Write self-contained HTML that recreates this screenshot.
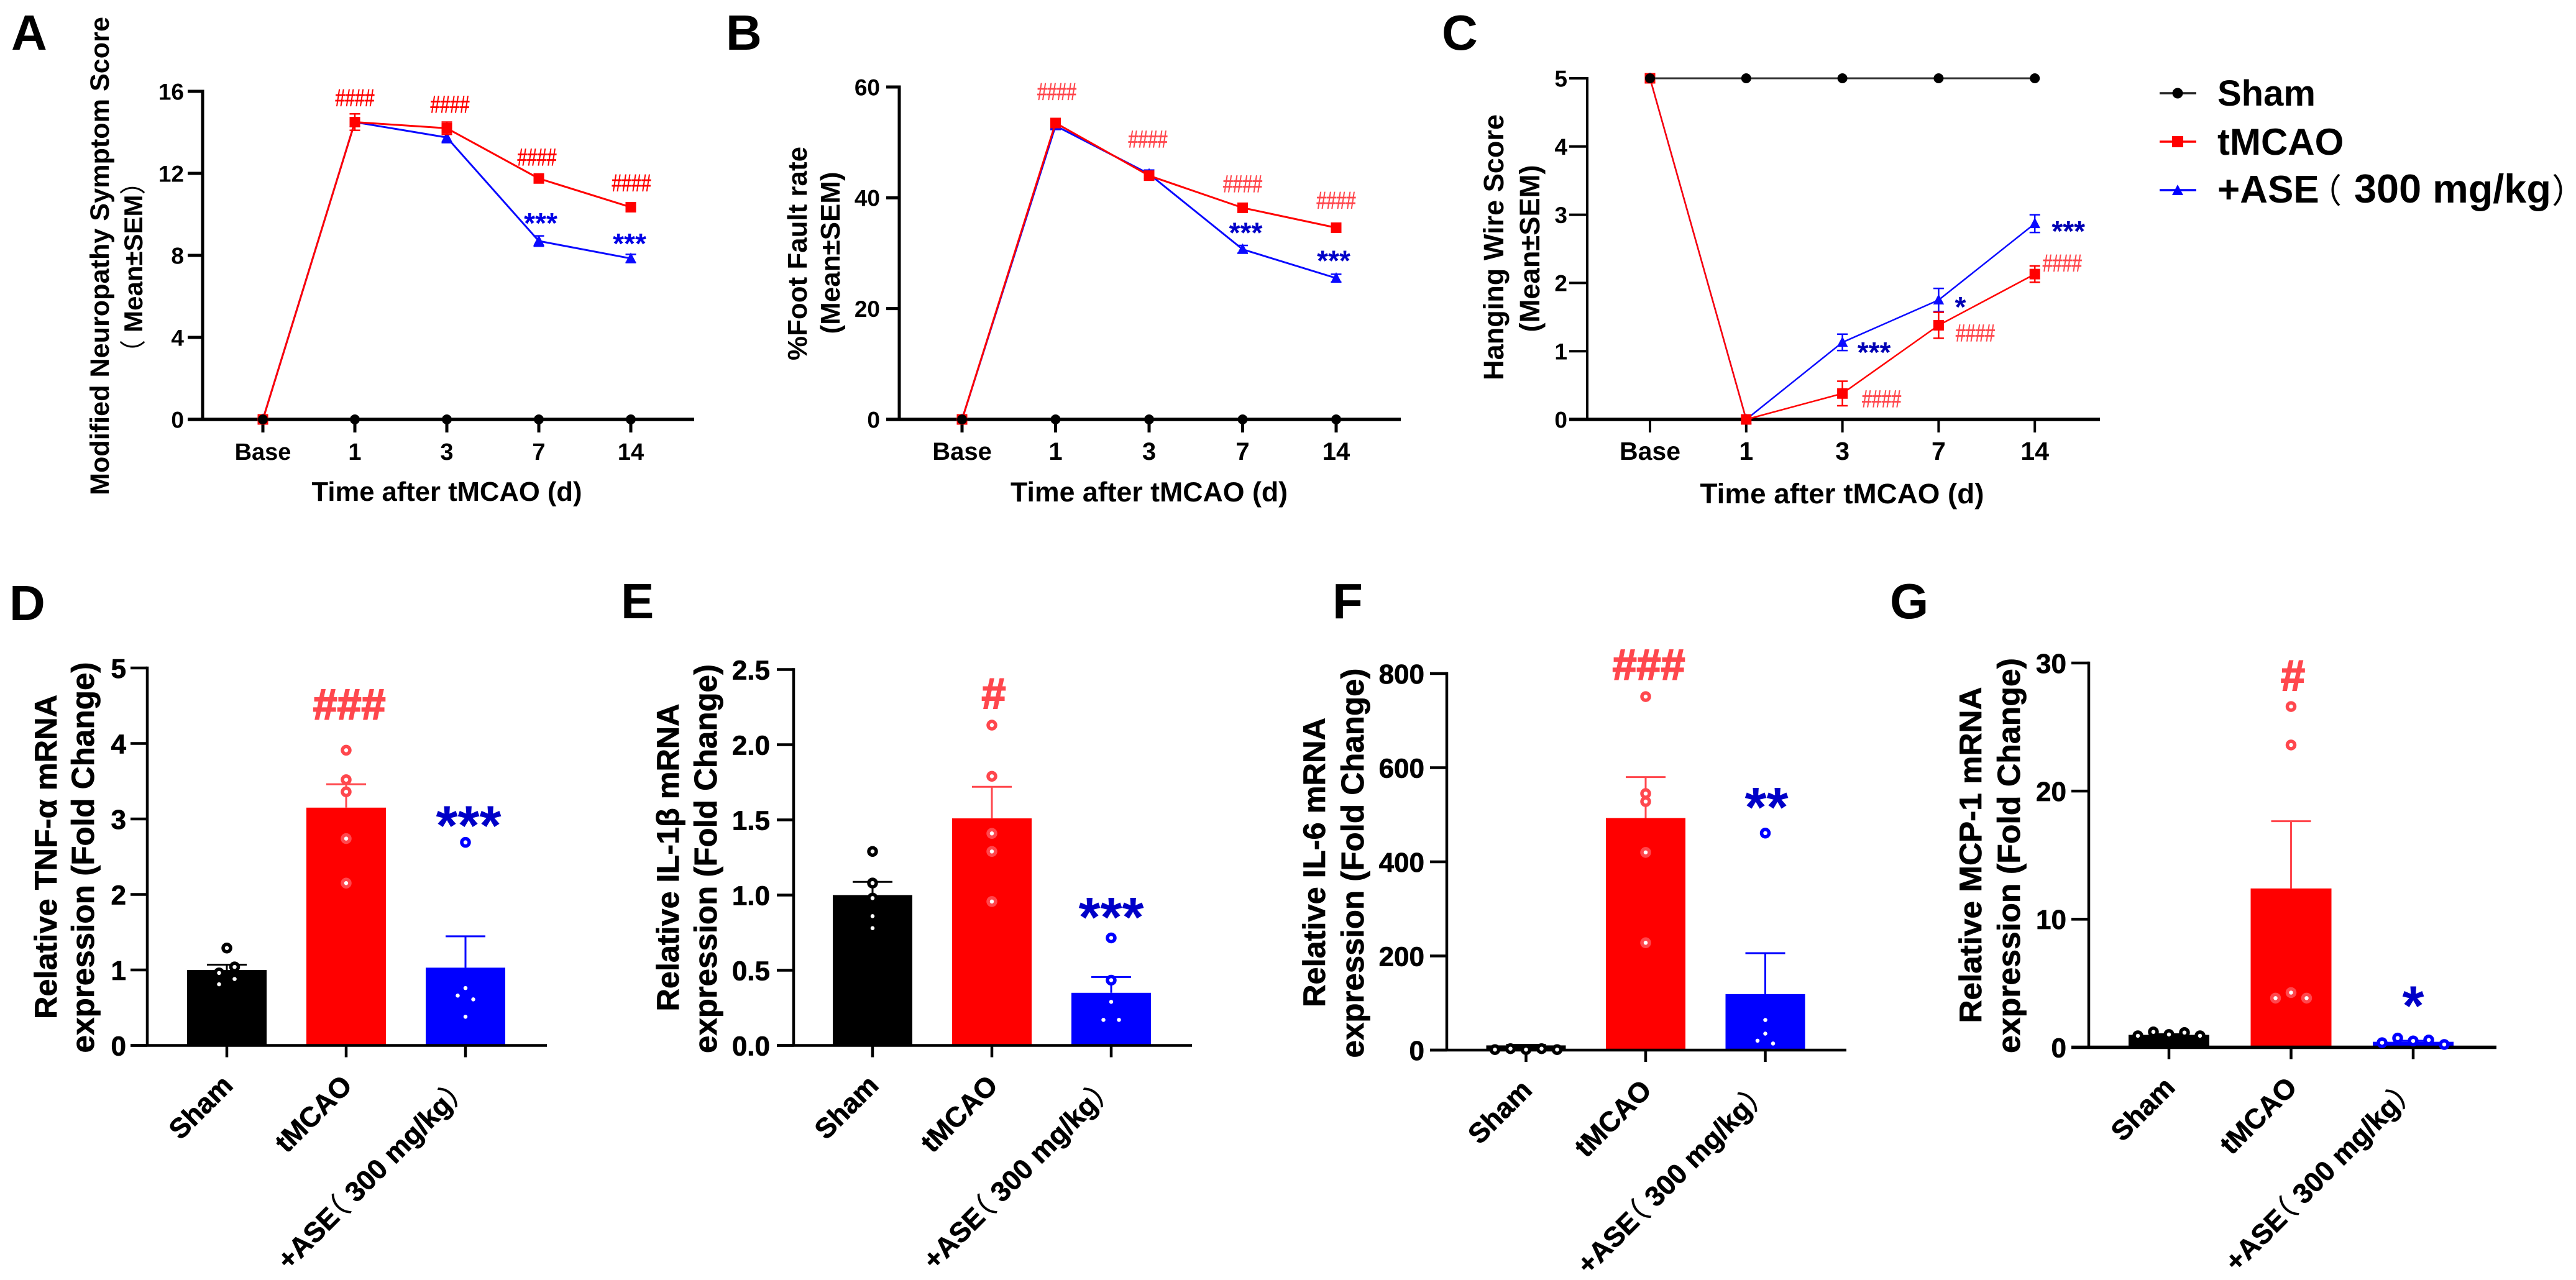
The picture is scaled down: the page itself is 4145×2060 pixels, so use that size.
<!DOCTYPE html>
<html lang="en">
<head>
<meta charset="utf-8">
<title>ASE behavioural and cytokine panels</title>
<style>
html,body{margin:0;padding:0;background:#fff;}
svg{display:block;}
text{font-family:"Liberation Sans","Noto Sans CJK SC",sans-serif;fill:#000;font-weight:700;}
.heavy text{stroke:#000;stroke-width:.7;}
.heavy .notes-text{stroke:none;}
</style>
</head>
<body>
<svg id="figure" xmlns="http://www.w3.org/2000/svg" width="4145" height="2060" viewBox="0 0 4145 2060">
<rect width="4145" height="2060" fill="#fff"/>

<g font-size="80">
<text x="18" y="80">A</text>
<text x="1168" y="80">B</text>
<text x="2320" y="80">C</text>
<text x="15" y="998">D</text>
<text x="999" y="995">E</text>
<text x="2144" y="995">F</text>
<text x="3041" y="995">G</text>
</g>

<g text-anchor="middle">
<text transform="translate(175,412) rotate(-90)" font-size="43" textLength="770" lengthAdjust="spacingAndGlyphs">Modified Neuropathy Symptom Score</text>
<text transform="translate(229,430) rotate(-90)" font-size="42"><tspan font-weight="400">（</tspan> Mean±SEM<tspan font-weight="400">）</tspan></text>
<text x="719" y="806" font-size="43.5" textLength="435" lengthAdjust="spacingAndGlyphs">Time after tMCAO (d)</text>

<text transform="translate(1298,408) rotate(-90)" font-size="44" textLength="344" lengthAdjust="spacingAndGlyphs">%Foot Fault rate</text>
<text transform="translate(1351,407) rotate(-90)" font-size="44" textLength="261" lengthAdjust="spacingAndGlyphs">(Mean±SEM)</text>
<text x="1849" y="807" font-size="44.6" textLength="446" lengthAdjust="spacingAndGlyphs">Time after tMCAO (d)</text>

<text transform="translate(2419,398) rotate(-90)" font-size="45" textLength="428" lengthAdjust="spacingAndGlyphs">Hanging Wire Score</text>
<text transform="translate(2477,400) rotate(-90)" font-size="45" textLength="269" lengthAdjust="spacingAndGlyphs">(Mean±SEM)</text>
<text x="2964" y="810" font-size="45.7" textLength="457" lengthAdjust="spacingAndGlyphs">Time after tMCAO (d)</text>

<g class="heavy">
<text transform="translate(91,1379) rotate(-90)" font-size="50" textLength="522" lengthAdjust="spacingAndGlyphs">Relative TNF-α mRNA</text>
<text transform="translate(151,1380) rotate(-90)" font-size="51" textLength="629" lengthAdjust="spacingAndGlyphs">expression (Fold Change)</text>

<text transform="translate(1092,1380) rotate(-90)" font-size="50" textLength="495" lengthAdjust="spacingAndGlyphs">Relative IL-1β mRNA</text>
<text transform="translate(1153,1382) rotate(-90)" font-size="51" textLength="626" lengthAdjust="spacingAndGlyphs">expression (Fold Change)</text>

<text transform="translate(2132,1388) rotate(-90)" font-size="50" textLength="466" lengthAdjust="spacingAndGlyphs">Relative IL-6 mRNA</text>
<text transform="translate(2194,1389) rotate(-90)" font-size="51" textLength="627" lengthAdjust="spacingAndGlyphs">expression (Fold Change)</text>

<text transform="translate(3188,1376) rotate(-90)" font-size="50" textLength="541" lengthAdjust="spacingAndGlyphs">Relative MCP-1 mRNA</text>
<text transform="translate(3250,1377) rotate(-90)" font-size="51" textLength="636" lengthAdjust="spacingAndGlyphs">expression (Fold Change)</text>
</g>
</g>

<g>
<g>
<line x1="3475" y1="150" x2="3534" y2="150" stroke="#222" stroke-width="3.5"/>
<circle cx="3504" cy="150" r="8.5" fill="#000"/>
<text x="3568" y="170" font-size="58">Sham</text>
</g>
<g>
<line x1="3475" y1="228" x2="3534" y2="228" stroke="#f00" stroke-width="3.5"/>
<rect x="3495" y="219" width="18" height="18" fill="#f00"/>
<text x="3568" y="249" font-size="60">tMCAO</text>
</g>
<g>
<line x1="3475" y1="306" x2="3534" y2="306" stroke="#00f" stroke-width="3.5"/>
<polygon points="3504,297 3513,314 3495,314" fill="#00f"/>
<text x="3568" y="326" font-size="62">+ASE<tspan x="3714" font-size="54" font-weight="400">（</tspan><tspan x="3788" font-size="64.8">300 mg/kg</tspan><tspan x="4106" font-size="54" font-weight="400">）</tspan></text>
</g>
</g>

<g id="charts"></g>
</svg>

<script>
// ---- shared categories ----
const timeCategories = ['Base', '1', '3', '7', '14'];
const groupCategories = ['Sham', 'tMCAO', '+ASE（ 300 mg/kg）'];

// ---- panel A: neuropathy score ----
const aTickLabels = ['0', '4', '8', '12', '16'];
const aSham = [0, 0, 0, 0, 0];
const aTmcao = [0, 14.5, 14.2, 11.75, 10.35];
const aTmcaoSem = [0, 0.4, 0.3, 0.2, 0.15];
const aAse = [0, 14.5, 13.75, 8.7, 7.85];
const aAseSem = [0, 0.2, 0.25, 0.25, 0.2];

// ---- panel B: foot fault ----
const bTickLabels = ['0', '20', '40', '60'];
const bSham = [0, 0, 0, 0, 0];
const bTmcao = [0, 53.5, 44, 38.2, 34.6];
const bTmcaoSem = [0, 0.8, 0.7, 0.5, 0.4];
const bAse = [0, 53, 44.3, 30.7, 25.5];
const bAseSem = [0, 0.6, 0.7, 0.7, 0.7];

// ---- panel C: hanging wire ----
const cTickLabels = ['0', '1', '2', '3', '4', '5'];
const cSham = [5, 5, 5, 5, 5];
const cTmcao = [5, 0, 0.38, 1.38, 2.13];
const cTmcaoSem = [0, 0, 0.18, 0.19, 0.12];
const cAse = [5, 0, 1.13, 1.75, 2.87];
const cAseSem = [0, 0, 0.12, 0.17, 0.13];

// ---- panel D: TNF-alpha ----
const dTickLabels = ['0', '1', '2', '3', '4', '5'];
const dMeans = [1.0, 3.15, 1.03];
const dSems = [0.07, 0.31, 0.415];
const dShamPoints = [1.29, 1.04, 0.96, 0.88, 0.81];
const dTmcaoPoints = [3.91, 3.52, 3.36, 2.74, 2.15];
const dAsePoints = [2.69, 0.76, 0.66, 0.61, 0.38];

// ---- panel E: IL-1 beta ----
const eTickLabels = ['0.0', '0.5', '1.0', '1.5', '2.0', '2.5'];
const eMeans = [1.0, 1.51, 0.35];
const eSems = [0.088, 0.21, 0.105];
const eShamPoints = [1.29, 1.08, 0.98, 0.86, 0.78];
const eTmcaoPoints = [2.13, 1.79, 1.41, 1.29, 0.957];
const eAsePoints = [0.715, 0.434, 0.29, 0.17, 0.17];

// ---- panel F: IL-6 ----
const fTickLabels = ['0', '200', '400', '600', '800'];
const fMeans = [10, 493, 119];
const fSems = [1, 87, 87];
const fShamPoints = [1, 3, 1, 3, 1];
const fTmcaoPoints = [751, 545, 528, 420, 228];
const fAsePoints = [461, 64, 35, 20, 14];

// ---- panel G: MCP-1 ----
const gTickLabels = ['0', '10', '20', '30'];
const gMeans = [0.97, 12.4, 0.43];
const gSems = [0.05, 5.25, 0.08];
const gShamPoints = [0.9, 1.2, 1.0, 1.15, 0.9];
const gTmcaoPoints = [26.6, 23.6, 4.27, 3.84, 3.84];
const gAsePoints = [0.36, 0.72, 0.5, 0.57, 0.22];

const NS = 'http://www.w3.org/2000/svg';
const root = document.getElementById('charts');
const RED = '#ff0000', BLUE = '#0000ff', BLACK = '#000000';
const RING_RED = '#ff474d';

function mk(parent, tag, props) {
  const n = document.createElementNS(NS, tag);
  for (const k in props) n.setAttribute(k, props[k]);
  parent.appendChild(n);
  return n;
}

function fillLabel(node, str) {
  str.split(/([（）])/).forEach(function (part) {
    if (!part) return;
    const props = {};
    if (part === '（') { props['font-weight'] = '400'; props.dx = '-0.5em'; }
    if (part === '）') { props['font-weight'] = '400'; }
    const t = mk(node, 'tspan', props);
    t.textContent = part;
  });
}

function drawYAxis(g, c, yScale, labels) {
  const axis = mk(g, 'g', {});
  
  
  const top = yScale(parseFloat(labels[labels.length - 1]));
  mk(axis, 'line', { x1: c.axisX, x2: c.axisX, y1: top - c.axisW / 2, y2: c.zero, stroke: '#000', 'stroke-width': c.axisW });
  labels.forEach(function (lab) {
    const y = yScale(parseFloat(lab));
    mk(axis, 'line', { x1: c.tickStart, x2: c.axisX, y1: y, y2: y, stroke: '#000', 'stroke-width': c.axisW });
    const t = mk(axis, 'text', { x: c.labelRight, y: y + c.tickFont * 0.36, 'text-anchor': 'end', 'font-size': c.tickFont });
    
    
    t.textContent = lab;
  });
}

function drawXBase(g, c, xScale, count) {
  const axis = mk(g, 'g', {});
  
  
  mk(axis, 'line', { x1: c.tickStart, x2: c.xEnd, y1: c.zero, y2: c.zero, stroke: '#000', 'stroke-width': c.baseW });
  for (let i = 0; i < count; i++) {
    mk(axis, 'line', { x1: xScale(i), x2: xScale(i), y1: c.zero, y2: c.zero + c.tickLen, stroke: '#000', 'stroke-width': c.axisW });
  }
  return axis;
}

function drawSeries(g, xScale, yScale, values, sems, color, lw, shape, size) {
  const pts = values.map(function (v, i) { return xScale(i) + ',' + yScale(v); }).join(' ');
  const line = mk(g, 'polyline', { points: pts, fill: 'none', stroke: color, 'stroke-width': lw, 'stroke-linejoin': 'round' });
  
  
  values.forEach(function (v, i) {
    const x = xScale(i), y = yScale(v);
    if (sems && sems[i] > 0) {
      const y1 = yScale(v + sems[i]), y2 = yScale(v - sems[i]);
      const err = mk(g, 'path', {
        d: 'M' + x + ' ' + y1 + 'V' + y2 + 'M' + (x - 8.5) + ' ' + y1 + 'H' + (x + 8.5) + 'M' + (x - 8.5) + ' ' + y2 + 'H' + (x + 8.5),
        fill: 'none', stroke: color, 'stroke-width': 2.5
      });
      
      
    }
    let m;
    if (shape === 'square') {
      m = mk(g, 'rect', { x: x - size / 2, y: y - size / 2, width: size, height: size, fill: color });
    } else if (shape === 'triangle') {
      m = mk(g, 'polygon', { points: x + ',' + (y - size * 0.6) + ' ' + (x + size * 0.55) + ',' + (y + size * 0.45) + ' ' + (x - size * 0.55) + ',' + (y + size * 0.45), fill: color });
    } else {
      m = mk(g, 'circle', { cx: x, cy: y, r: size / 2, fill: color });
    }
    
    
  });
}

function drawLinePanel(c) {
  const g = mk(root, 'g', {});
  
  
  const maxTick = parseFloat(c.labels[c.labels.length - 1]);
  const xScale = function (i) { return c.firstX + i * c.stepX; };
  const yScale = function (v) { return c.zero - (v / maxTick) * (c.zero - c.top); };
  drawYAxis(g, c, yScale, c.labels);
  const axis = drawXBase(g, c, xScale, timeCategories.length);
  timeCategories.forEach(function (cat, i) {
    const t = mk(axis, 'text', { x: xScale(i), y: c.zero + 65, 'text-anchor': 'middle', 'font-size': c.catFont });
    
    
    t.textContent = cat;
  });
  drawSeries(g, xScale, yScale, c.ase, c.aseSem, '#0a0aff', c.lw, 'triangle', 16);
  drawSeries(g, xScale, yScale, c.tmcao, c.tmcaoSem, RED, c.lw, 'square', 17);
  drawSeries(g, xScale, yScale, c.sham, null, c.shamLine, c.shamLw, 'circle', 16);
  g.querySelectorAll('circle').forEach(function (n) { n.setAttribute('fill', '#000'); });
  c.notes.forEach(function (n) {
    const series = n[0] === 'r' ? c.tmcao : c.ase;
    const x = xScale(n[1]) + n[2], y = yScale(series[n[1]]) + n[3];
    let t;
    if (n[0] === 'r') {
      t = mk(g, 'text', { x: x, y: y, 'text-anchor': 'middle', 'font-size': 39, textLength: 63, lengthAdjust: 'spacingAndGlyphs' });
      t.style.fill = c.hashColor;
      t.style.stroke = c.hashColor;
      t.style.strokeWidth = '0.7px';
      t.style.fontWeight = '400';
      t.textContent = '####';
      
    } else {
      t = mk(g, 'text', { x: x, y: y - 2, 'text-anchor': 'middle', 'font-size': 46 });
      t.style.fill = c.starColor;
      t.textContent = n[4];
      
    }
    
  });
}

function swarmOffsets(values, yScale) {
  const out = values.map(function () { return 0; });
  let start = 0;
  for (let i = 1; i <= values.length; i++) {
    if (i === values.length || Math.abs(yScale(values[i]) - yScale(values[i - 1])) >= 12.5) {
      const n = i - start;
      let minGap = Infinity;
      for (let k = start + 1; k < i; k++) minGap = Math.min(minGap, Math.abs(yScale(values[k]) - yScale(values[k - 1])));
      if (n === 2) { out[start] = -12.5; out[start + 1] = 12.5; }
      if (n === 3) {
        const step = minGap < 4 ? 25 : 12.5;
        out[start + 1] = -step;
        out[start + 2] = step;
      }
      if (n === 4) { out[start] = 12.5; out[start + 1] = -12.5; out[start + 2] = 12.5; out[start + 3] = -12.5; }
      if (n === 5) { for (let k = 0; k < 5; k++) out[start + k] = (k - 2) * 25; }
      start = i;
    }
  }
  return out;
}

function drawBarPanel(c) {
  const g = mk(root, 'g', { class: 'heavy' });
  
  
  const maxTick = parseFloat(c.labels[c.labels.length - 1]);
  const xScale = function (i) { return c.firstX + i * c.stepX; };
  const yScale = function (v) { return c.zero - (v / maxTick) * (c.zero - c.top); };
  const colors = [BLACK, RED, BLUE];
  const errColors = [BLACK, RING_RED, BLUE];
  const groups = [c.shamPts, c.tmcaoPts, c.asePts];

  c.means.forEach(function (m, i) {
    const y = yScale(m);
    const bar = mk(g, 'rect', { x: xScale(i) - c.barW / 2, y: y, width: c.barW, height: c.zero - y, fill: colors[i] });
    
    
    const yTop = yScale(m + c.sems[i]);
    const err = mk(g, 'path', {
      d: 'M' + xScale(i) + ' ' + y + 'V' + yTop + 'M' + (xScale(i) - 32) + ' ' + yTop + 'H' + (xScale(i) + 32),
      fill: 'none', stroke: errColors[i], 'stroke-width': 3
    });
    
    
  });

  drawYAxis(g, c, yScale, c.labels);
  const axis = drawXBase(g, c, xScale, groupCategories.length);
  groupCategories.forEach(function (cat, i) {
    const px = xScale(i) + 12, py = c.zero + 67;
    const t = mk(axis, 'text', { x: px, y: py, 'text-anchor': 'end', 'font-size': c.catFont, transform: 'rotate(-45 ' + px + ' ' + py + ')' });
    
    
    fillLabel(t, cat);
  });

  groups.forEach(function (vals, i) {
    const off = swarmOffsets(vals, yScale);
    vals.forEach(function (v, k) {
      const p = mk(g, 'circle', { cx: xScale(i) + off[k], cy: yScale(v), r: 6, fill: '#fff', stroke: i === 1 ? RING_RED : colors[i], 'stroke-width': 5.5 });
      
      
    });
  });

  c.notes.forEach(function (n) {
    const x = xScale(n[0]) + n[2];
    const y = yScale(Math.max.apply(null, groups[n[0]])) + n[3];
    const isHash = n[1].charAt(0) === '#';
    const t = mk(g, 'text', { x: x, y: isHash ? y : y - 8, 'text-anchor': 'middle', 'font-size': isHash ? 70 : 90, class: 'notes-text' });
    t.style.fill = isHash ? RING_RED : '#0000c8';
    if (isHash) {
      t.style.stroke = RING_RED;
      t.style.strokeWidth = '2px';
    }
    t.textContent = n[1];
    
    
  });
}

drawLinePanel({
  name: 'panel-a-neuropathy-score', labels: aTickLabels,
  axisX: 326, tickStart: 302, xEnd: 1117, top: 147, zero: 675, firstX: 423, stepX: 148,
  axisW: 5, baseW: 5.5, tickLen: 21, labelRight: 296, tickFont: 37, catFont: 38,
  sham: aSham, tmcao: aTmcao, tmcaoSem: aTmcaoSem, ase: aAse, aseSem: aAseSem,
  lw: 3, shamLine: '#000', shamLw: 3, hashColor: '#ff0000', starColor: '#0000e6',
  notes: [['r', 1, 0, -25.5], ['r', 2, 5, -25], ['r', 3, -3, -21], ['r', 4, 1, -25.5],
          ['b', 3, 3, -11, '***'], ['b', 4, -2, -6, '***']]
});
drawLinePanel({
  name: 'panel-b-foot-fault', labels: bTickLabels,
  axisX: 1447, tickStart: 1426, xEnd: 2254, top: 140, zero: 675, firstX: 1548, stepX: 150.5,
  axisW: 5, baseW: 5.5, tickLen: 21, labelRight: 1416, tickFont: 37, catFont: 40,
  sham: bSham, tmcao: bTmcao, tmcaoSem: bTmcaoSem, ase: bAse, aseSem: bAseSem,
  lw: 3, shamLine: '#000', shamLw: 3, hashColor: '#ff474d', starColor: '#0000c8',
  notes: [['r', 1, 2, -37], ['r', 2, -2, -45], ['r', 3, 0, -25], ['r', 4, 0, -30.5],
          ['b', 3, 5, -9, '***'], ['b', 4, -4, -10, '***']]
});
drawLinePanel({
  name: 'panel-c-hanging-wire', labels: cTickLabels,
  axisX: 2554, tickStart: 2525, xEnd: 3379, top: 126, zero: 675, firstX: 2655, stepX: 154.8,
  axisW: 4, baseW: 5.5, tickLen: 21, labelRight: 2522, tickFont: 37, catFont: 41,
  sham: cSham, tmcao: cTmcao, tmcaoSem: cTmcaoSem, ase: cAse, aseSem: cAseSem,
  lw: 2.5, shamLine: '#333', shamLw: 3, hashColor: '#ff474d', starColor: '#0000b4',
  notes: [['r', 2, 63, 22], ['r', 3, 59, 26], ['r', 4, 44, -4],
          ['b', 2, 51, 34, '***'], ['b', 3, 35, 29, '*'], ['b', 4, 54, 30, '***']]
});
drawBarPanel({
  name: 'panel-d-tnf-alpha', labels: dTickLabels,
  axisX: 237, tickStart: 210, xEnd: 880, top: 1075, zero: 1682.5, firstX: 365, stepX: 192, barW: 128,
  axisW: 4.5, baseW: 4.5, tickLen: 19, labelRight: 203, tickFont: 44, catFont: 45,
  means: dMeans, sems: dSems, shamPts: dShamPoints, tmcaoPts: dTmcaoPoints, asePts: dAsePoints,
  notes: [[1, '###', 5, -50], [2, '***', 5, 12]]
});
drawBarPanel({
  name: 'panel-e-il-1-beta', labels: eTickLabels,
  axisX: 1277, tickStart: 1250, xEnd: 1918, top: 1077.5, zero: 1682.5, firstX: 1404, stepX: 192, barW: 128,
  axisW: 4.5, baseW: 4.5, tickLen: 19, labelRight: 1239, tickFont: 44, catFont: 45,
  means: eMeans, sems: eSems, shamPts: eShamPoints, tmcaoPts: eTmcaoPoints, asePts: eAsePoints,
  notes: [[1, '#', 3, -27], [2, '***', 0, 5.5]]
});
drawBarPanel({
  name: 'panel-f-il-6', labels: fTickLabels,
  axisX: 2328, tickStart: 2301, xEnd: 2971, top: 1084, zero: 1690, firstX: 2455.5, stepX: 192.5, barW: 128,
  axisW: 4.5, baseW: 4.5, tickLen: 19, labelRight: 2292, tickFont: 44, catFont: 45,
  means: fMeans, sems: fSems, shamPts: fShamPoints, tmcaoPts: fTmcaoPoints, asePts: fAsePoints,
  notes: [[1, '###', 5, -27.5], [2, '**', 2, -3]]
});
drawBarPanel({
  name: 'panel-g-mcp-1', labels: gTickLabels,
  axisX: 3361, tickStart: 3333, xEnd: 4017, top: 1067, zero: 1685.5, firstX: 3490, stepX: 196.5, barW: 130,
  axisW: 4.5, baseW: 5.5, tickLen: 19, labelRight: 3325, tickFont: 44, catFont: 45,
  means: gMeans, sems: gSems, shamPts: gShamPoints, tmcaoPts: gTmcaoPoints, asePts: gAsePoints,
  notes: [[1, '#', 3, -26], [2, '*', 0, -13]]
});
</script>
</body>
</html>
